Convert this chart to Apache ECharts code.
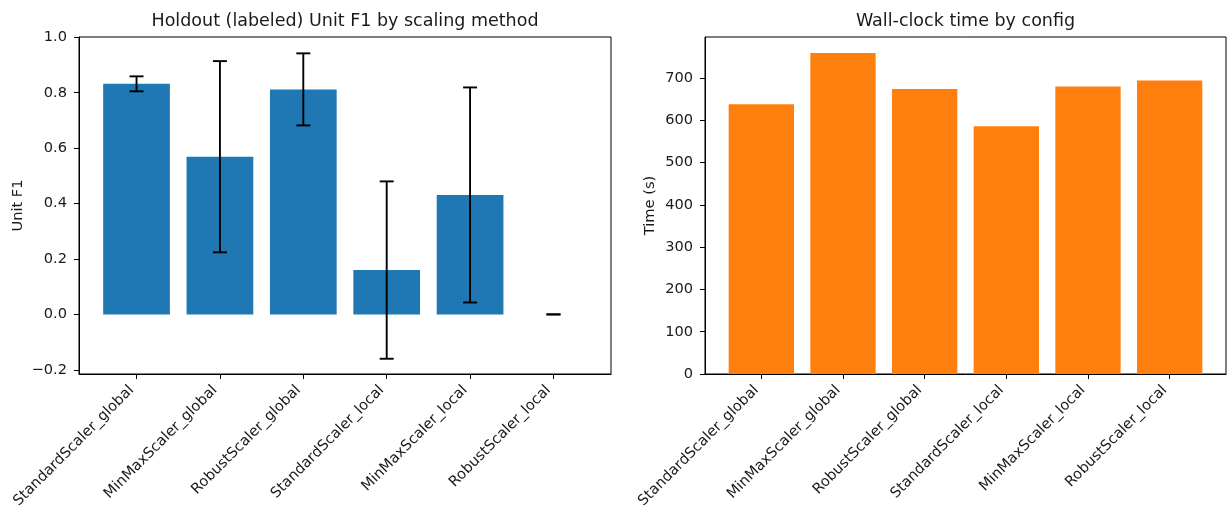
<!DOCTYPE html>
<html><head><meta charset="utf-8">
<script src="https://cdn.jsdelivr.net/npm/echarts@6/dist/echarts.min.js"></script>
<style>html,body{margin:0;padding:0;background:#fff}#c{width:1228px;height:508px}</style>
</head><body><div id="c"></div><script>
const categories = ['StandardScaler_global','MinMaxScaler_global','RobustScaler_global','StandardScaler_local','MinMaxScaler_local','RobustScaler_local'];
const f1Mean = [0.832, 0.569, 0.812, 0.160, 0.431, 0.0];
const f1Err  = [0.027, 0.345, 0.130, 0.320, 0.388, 0.0];
const timeSec = [638, 759, 674, 586, 680, 694];
const f1Ticks = [-0.2, 0, 0.2, 0.4, 0.6, 0.8, 1.0];
const timeTicks = [0, 100, 200, 300, 400, 500, 600, 700];
const catTicks = [0, 1, 2, 3, 4, 5];

const FONT = 'DejaVu Sans';
const TXT = '#1a1a1a';
const FS = 14.6;

function barItem(color) {
  return function (params, api) {
    const i = api.value(0), v = api.value(1);
    const p0 = api.coord([i - 0.4, v]);
    const p1 = api.coord([i + 0.4, 0]);
    return {
      type: 'rect',
      shape: { x: p0[0], y: Math.min(p0[1], p1[1]), width: p1[0] - p0[0], height: Math.abs(p1[1] - p0[1]) },
      style: { fill: color }
    };
  };
}
function errItem(params, api) {
  const i = api.value(0), lo = api.value(1), hi = api.value(2);
  const a = api.coord([i, hi]), b = api.coord([i, lo]);
  const cw = 7;
  const st = { stroke: '#000', lineWidth: 1.9 };
  return {
    type: 'group', children: [
      { type: 'line', shape: { x1: a[0], y1: a[1], x2: b[0], y2: b[1] }, style: st },
      { type: 'line', shape: { x1: a[0] - cw, y1: a[1], x2: a[0] + cw, y2: a[1] }, style: st },
      { type: 'line', shape: { x1: b[0] - cw, y1: b[1], x2: b[0] + cw, y2: b[1] }, style: st }
    ]
  };
}

function xAxisCfg(gi) {
  return {
    type: 'value', gridIndex: gi, min: -0.69, max: 5.69,
    axisLine: { show: true, onZero: false, lineStyle: { color: '#000', width: 1 } },
    axisTick: { show: true, customValues: catTicks, length: 5, lineStyle: { color: '#000', width: 1 } },
    axisLabel: { customValues: catTicks, rotate: 45, margin: 9, padding: [0, 7, 0, 0],
      formatter: v => categories[Math.round(v)],
      fontSize: FS, fontFamily: FONT, color: TXT },
    splitLine: { show: false }
  };
}
function yAxisCfg(gi, min, max, ticks, name, gap, fmt) {
  return {
    type: 'value', gridIndex: gi, min: min, max: max,
    name: name, nameLocation: 'middle', nameGap: gap,
    nameTextStyle: { fontSize: FS, fontFamily: FONT, color: TXT },
    axisLine: { show: true, onZero: false, lineStyle: { color: '#000', width: 1 } },
    axisTick: { show: true, customValues: ticks, length: 5, lineStyle: { color: '#000', width: 1 } },
    axisLabel: { customValues: ticks, margin: 12, fontSize: FS, fontFamily: FONT, color: TXT, formatter: fmt },
    splitLine: { show: false }
  };
}

const chart = echarts.init(document.getElementById('c'), null, { renderer: 'canvas' });
chart.setOption({
  animation: false,
  backgroundColor: '#fff',
  graphic: [
    { type: 'text', x: 345, y: 21, style: { text: 'Holdout (labeled) Unit F1 by scaling method', font: '17.5px "DejaVu Sans"', fill: TXT, textAlign: 'center', textVerticalAlign: 'middle' } },
    { type: 'text', x: 965.5, y: 21, style: { text: 'Wall-clock time by config', font: '17.5px "DejaVu Sans"', fill: TXT, textAlign: 'center', textVerticalAlign: 'middle' } }
  ],
  grid: [
    { left: 79, right: 1228 - 611, top: 37, bottom: 508 - 374, containLabel: false, outerBoundsMode: 'none',
      show: true, borderColor: '#000', borderWidth: 1, backgroundColor: 'transparent' },
    { left: 705, right: 2, top: 37, bottom: 508 - 374, containLabel: false, outerBoundsMode: 'none',
      show: true, borderColor: '#000', borderWidth: 1, backgroundColor: 'transparent' }
  ],
  xAxis: [xAxisCfg(0), xAxisCfg(1)],
  yAxis: [
    yAxisCfg(0, -0.215, 1.001, f1Ticks, 'Unit F1', 53, v => v.toFixed(1).replace('-', '\u2212')),
    yAxisCfg(1, 0, 797, timeTicks, 'Time (s)', 47, v => String(Math.round(v)))
  ],
  series: [
    { type: 'custom', xAxisIndex: 0, yAxisIndex: 0, renderItem: barItem('#1f77b4'),
      data: categories.map((c, i) => [i, f1Mean[i]]), z: 2 },
    { type: 'custom', xAxisIndex: 0, yAxisIndex: 0, renderItem: errItem,
      data: categories.map((c, i) => [i, f1Mean[i] - f1Err[i], f1Mean[i] + f1Err[i]]), z: 3 },
    { type: 'custom', xAxisIndex: 1, yAxisIndex: 1, renderItem: barItem('#ff7f0e'),
      data: categories.map((c, i) => [i, timeSec[i]]), z: 2 }
  ]
});
</script></body></html>
